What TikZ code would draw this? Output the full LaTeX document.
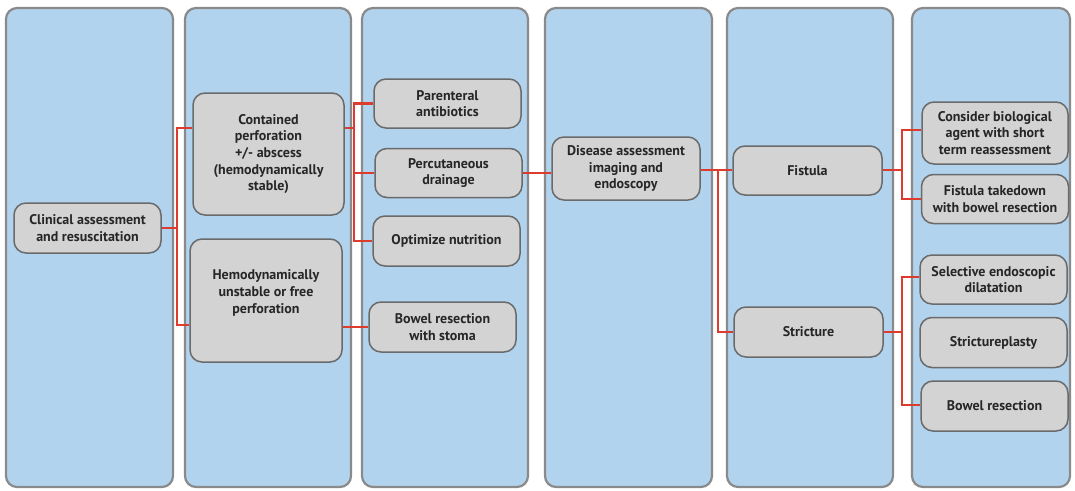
\documentclass[tikz,border=0pt]{standalone}
\usepackage{fontspec}
\setmainfont{PT Sans}
\usetikzlibrary{positioning}
\definecolor{laneblue}{HTML}{B1D3EE}
\definecolor{lanegray}{HTML}{8A8A8A}
\definecolor{boxgray}{HTML}{D3D3D3}
\definecolor{boxline}{HTML}{6A6A6A}
\definecolor{linkred}{HTML}{DD3B2E}
\tikzset
{
    lane/.style = {draw=lanegray, fill=laneblue, line width=2.2pt, rounded corners=11pt},
    box/.style  = {rectangle, rounded corners=12pt, draw=boxline, fill=boxgray, line width=1.5pt, align=center, minimum width=147pt, minimum height=50pt, inner sep=2pt, text=black!85, font=\bfseries\fontsize{14}{16.7}\selectfont},
    link/.style = {draw=linkred, line width=2.4pt},
}

\begin{document}
\begin{tikzpicture}[x=1pt, y=-1pt]
	\useasboundingbox (0,0) rectangle (1075,490);
	% six lanes behind the steps
	\foreach \l/\r in {6/173,185/351,362/528,545/712,727/893,912/1070}
		\draw[lane] (\l,8) rectangle (\r,487);

	\node (clin) [box] at (87.5,228) {Clinical assessment\\and resuscitation};
	\node (cont) [box, minimum width=151pt, minimum height=122pt] at (268.5,154) {Contained\\perforation\\+/- abscess\\(hemodynamically\\stable)};
	\node (hemo) [box, minimum width=152pt, minimum height=123pt, text depth=18pt] at (266,300.5) {Hemodynamically\\unstable or free\\perforation};
	\node (paren) [box, minimum height=49pt] at (447.5,103.5) {Parenteral\\antibiotics};
	\node (percut) [box, minimum height=49pt, below=19pt of paren, xshift=1pt] {Percutaneous\\drainage};
	\node (optim) [box, below=17pt of percut, xshift=-2pt] {Optimize nutrition};
	\node (stoma) [box] at (442.5,327) {Bowel resection\\with stoma};
	\node (dis) [box, minimum width=148pt, minimum height=63pt] at (626,168.5) {Disease assessment\\imaging and\\endoscopy};
	\node (fist) [box, minimum width=149pt, minimum height=49pt] at (807.5,170.5) {Fistula};
	\node (stric) [box, minimum width=149pt] at (808.5,332) {Stricture};
	\node (consid) [box, minimum width=146pt, minimum height=62pt] at (995,133) {Consider biological\\agent with short\\term reassessment};
	\node (takedn) [box, minimum height=49pt, below=9pt of consid] {Fistula takedown\\with bowel resection};
	\node (select) [box, minimum height=49pt] at (993.5,279.5) {Selective endoscopic\\dilatation};
	\node (strpl) [box, below=12pt of select] {Strictureplasty};
	\node (bowres) [box, below=12pt of strpl, xshift=1pt] {Bowel resection};

	% red connectors
	\coordinate (j1) at (177,228);
	\draw[link] (clin.east) -- (j1);
	\draw[link] (cont.west |- 0,128) -| (j1) |- (hemo.west |- 0,325);

	\coordinate (j2) at (354,128);
	\draw[link] (cont.east |- j2) -- (j2);
	\draw[link] (paren.west) -| (j2) |- (optim.west);
	\draw[link] (j2 |- percut.west) -- (percut.west);
	\draw[link] (hemo.east |- stoma.west) -- (stoma.west);
	\draw[link] (percut.east) -- (dis.west |- percut.east);

	\coordinate (j3) at (718,170);
	\draw[link] (dis.east |- j3) -- (fist.west |- j3);
	\draw[link] (j3) |- (stric.west);

	\coordinate (j4) at (902,170);
	\draw[link] (fist.east |- j4) -- (j4);
	\draw[link] (consid.west |- 0,130) -| (j4) |- (takedn.west);

	\coordinate (j5) at (902,332);
	\draw[link] (stric.east) -- (j5);
	\draw[link] (select.west |- 0,277) -| (j5) |- (bowres.west |- 0,405);
\end{tikzpicture}
\end{document}
